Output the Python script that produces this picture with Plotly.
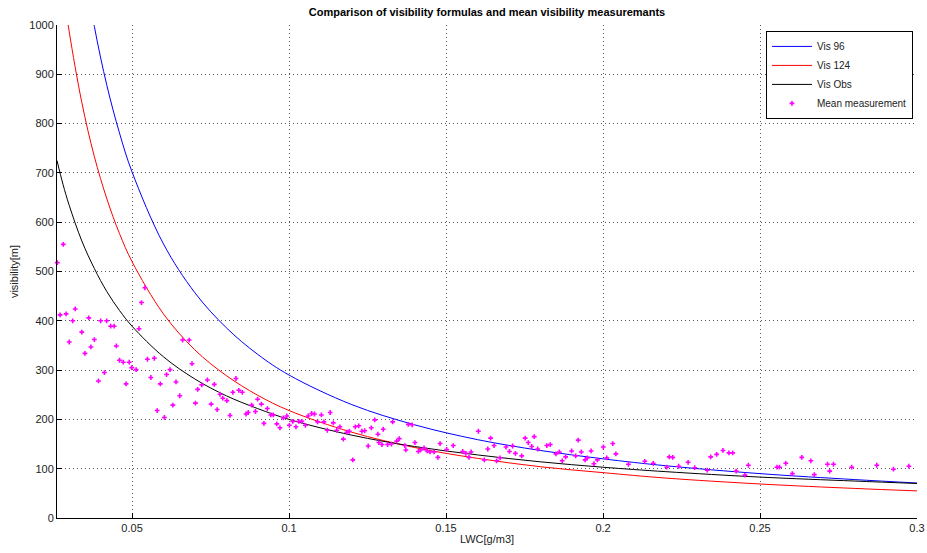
import plotly.graph_objects as go

# Curves
x_curve = [0.0261, 0.028, 0.030, 0.034, 0.038, 0.042, 0.046, 0.05, 0.06, 0.07, 0.08, 0.09,
           0.1, 0.12, 0.14, 0.16, 0.18, 0.2, 0.22, 0.25, 0.28, 0.3]
vis_96 = [1610, 1471, 1348, 1149, 997, 877, 781, 702, 556, 457, 386, 332,
          290, 230, 189, 159, 137, 120, 106, 90, 78, 71]
vis_124 = [1174, 1075, 986, 843, 733, 647, 577, 520, 414, 341, 289, 249,
           218, 174, 143, 121, 104, 92, 81, 69, 60, 55]
vis_obs = [725, 677, 634, 562, 506, 459, 421, 389, 327, 282, 248, 222,
           200, 168, 145, 128, 114, 103, 94, 83, 75, 70]

# Mean measurements
meas_lwc = [0.0281, 0.0262, 0.0271, 0.0290, 0.0319, 0.0311, 0.0362, 0.0400, 0.0419, 0.0432,
            0.0443, 0.0340, 0.0380, 0.0300, 0.0369, 0.0350, 0.0450, 0.0460, 0.0472, 0.0491,
            0.0499, 0.0513, 0.0412, 0.0393, 0.0481, 0.0541, 0.0530, 0.0522, 0.0549, 0.0571,
            0.0560, 0.0590, 0.0610, 0.0621, 0.0640, 0.0661, 0.0682, 0.0691, 0.0652, 0.0630,
            0.0580, 0.0603, 0.0709, 0.0702, 0.0722, 0.0740, 0.0762, 0.0752, 0.0771, 0.0780,
            0.0789, 0.0802, 0.0812, 0.0821, 0.0831, 0.0840, 0.0851, 0.0863, 0.0870, 0.0881,
            0.0893, 0.0900, 0.0912, 0.0920, 0.0931, 0.0942, 0.0950, 0.0961, 0.0971, 0.0982,
            0.0993, 0.1001, 0.1012, 0.1022, 0.1031, 0.1041, 0.1052, 0.1061, 0.1072, 0.1081,
            0.1091, 0.1103, 0.1111, 0.1122, 0.1131, 0.1141, 0.1152, 0.1162, 0.1173, 0.1184,
            0.1192, 0.1203, 0.1211, 0.1222, 0.1232, 0.1241, 0.1252, 0.1262, 0.1273, 0.1283,
            0.1300, 0.1330, 0.1343, 0.1351, 0.1286, 0.1296, 0.1314, 0.1326, 0.1369, 0.1372,
            0.1380, 0.1392, 0.1401, 0.1412, 0.1419, 0.1430, 0.1440, 0.1449, 0.1462, 0.1474,
            0.1481, 0.1502, 0.1523, 0.1553, 0.1563, 0.1573, 0.1580, 0.1603, 0.1622, 0.1633,
            0.1642, 0.1653, 0.1661, 0.1672, 0.1691, 0.1702, 0.1712, 0.1721, 0.1741, 0.1752,
            0.1762, 0.1773, 0.1781, 0.1792, 0.1821, 0.1832, 0.1850, 0.1861, 0.1870, 0.1881,
            0.1900, 0.1913, 0.1921, 0.1931, 0.1943, 0.1950, 0.1962, 0.1971, 0.1982, 0.2001,
            0.2012, 0.2031, 0.2041, 0.2081, 0.2133, 0.2160, 0.2203, 0.2211, 0.2222, 0.2241,
            0.2271, 0.2292, 0.2332, 0.2343, 0.2362, 0.2382, 0.2401, 0.2413, 0.2424, 0.2452,
            0.2463, 0.2554, 0.2562, 0.2582, 0.2603, 0.2633, 0.2662, 0.2673, 0.2715, 0.2734,
            0.2722, 0.2792, 0.2872, 0.2925, 0.2974]
meas_vis = [555, 518, 412, 414, 424, 400, 406, 400, 400, 389,
            389, 377, 362, 357, 347, 334, 349, 320, 316, 316,
            305, 301, 295, 278, 272, 467, 437, 384, 322, 324,
            285, 272, 291, 301, 276, 361, 361, 313, 248, 229,
            218, 204, 261, 233, 270, 280, 271, 231, 220, 251,
            243, 238, 208, 255, 283, 259, 255, 211, 214, 229,
            216, 241, 231, 192, 222, 209, 209, 191, 183, 203,
            207, 188, 196, 185, 196, 196, 188, 207, 212, 211,
            195, 209, 195, 178, 214, 193, 178, 185, 160, 174,
            176, 118, 185, 187, 176, 177, 146, 183, 199, 170,
            180, 195, 156, 161, 153, 149, 149, 150, 147, 138,
            190, 189, 153, 135, 138, 142, 136, 134, 134, 123,
            151, 139, 147, 135, 131, 123, 134, 176, 118, 140,
            162, 147, 116, 122, 144, 135, 146, 131, 126, 162,
            153, 145, 165, 140, 147, 149, 130, 134, 116, 124,
            136, 126, 158, 134, 118, 122, 136, 110, 118, 144,
            122, 151, 130, 109, 115, 111, 103, 124, 123, 105,
            113, 102, 97, 124, 129, 137, 132, 132, 95, 87,
            107, 103, 103, 111, 90, 123, 116, 88, 109, 109,
            95, 103, 107, 99, 105]

x_ticks = [0.05, 0.1, 0.15, 0.2, 0.25, 0.3]
x_ticklabels = ["0.05", "0.1", "0.15", "0.2", "0.25", "0.3"]
y_ticks = [0, 100, 200, 300, 400, 500, 600, 700, 800, 900, 1000]

font_family = "Liberation Sans, Arial, sans-serif"

fig = go.Figure()
fig.add_trace(go.Scatter(x=x_curve, y=vis_96, mode="lines", name="Vis 96",
                         line=dict(color="#0000FF", width=1, shape="spline")))
fig.add_trace(go.Scatter(x=x_curve, y=vis_124, mode="lines", name="Vis 124",
                         line=dict(color="#FF0000", width=1, shape="spline")))
fig.add_trace(go.Scatter(x=x_curve, y=vis_obs, mode="lines", name="Vis Obs",
                         line=dict(color="#000000", width=1, shape="spline")))
fig.add_trace(go.Scatter(x=meas_lwc, y=meas_vis, mode="markers", name="Mean measurement",
                         marker=dict(color="#FF00FF", size=4, symbol="cross",
                                     line=dict(width=0)), cliponaxis=False))

grid_style = dict(showgrid=True, gridcolor="#555555", griddash="1px,3px", gridwidth=1,
                  showline=True, linecolor="#000000", linewidth=1,
                  ticks="inside", ticklen=5, tickcolor="#000000",
                  zeroline=False, mirror=False, automargin=False)

fig.update_layout(
    width=927, height=553,
    margin=dict(l=57, r=10, t=25, b=35, autoexpand=False),
    paper_bgcolor="white", plot_bgcolor="white",
    font=dict(family=font_family, size=11, color="#222222"),
    title=dict(text="<b>Comparison of visibility formulas and mean visibility measuremants</b>",
               x=0.5, xref="paper", xanchor="center", y=0.978, yref="container",
               yanchor="middle", font=dict(size=11, color="#000000"),
               automargin=False),
    showlegend=True,
    legend=dict(x=0.9953, y=0.988, xanchor="right", yanchor="top",
                bgcolor="white", bordercolor="#000000", borderwidth=1,
                font=dict(size=10, color="#222222"), tracegroupgap=0,
                itemwidth=40),
    xaxis=dict(range=[0.0261, 0.3], tickvals=x_ticks, ticktext=x_ticklabels,
               title=dict(text="LWC[g/m3]", standoff=2, font=dict(size=11)),
               **grid_style),
    yaxis=dict(range=[0, 1000], tickvals=y_ticks,
               title=dict(text="visibility[m]", standoff=8, font=dict(size=11)),
               **grid_style),
)

fig.write_html(
    "out.html",
    config={"displayModeBar": False},
    post_script="document.body.style.margin='0';document.body.style.overflow='hidden';",
)
